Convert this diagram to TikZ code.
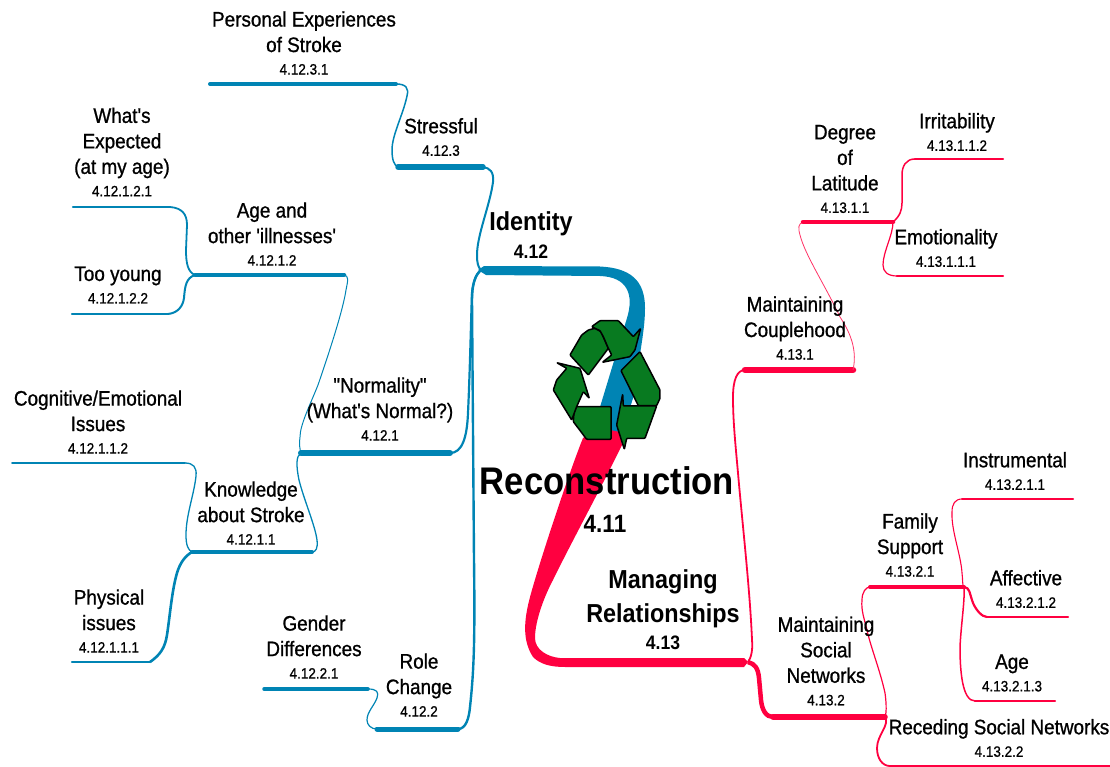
\documentclass[tikz,border=0pt]{standalone}
\usepackage{fontspec}
\setmainfont[FakeStretch=0.90,Ligatures=TeXOff,UprightFeatures={FakeBold=0.9}]{Liberation Sans}
\definecolor{tealbranch}{RGB}{0,132,180}
\definecolor{redbranch}{RGB}{255,0,64}
\definecolor{arrowgreen}{RGB}{8,122,32}
\newcommand{\code}[1]{{\fontsize{15}{20}\selectfont #1}}
\tikzset{
  topic/.style={align=center,font=\fontsize{21}{25.5}\selectfont,yshift=1pt},
  bigtopic/.style={align=center,font=\fontsize{26}{34}\selectfont\bfseries},
  bar/.style={line width=#1,line cap=round},
  hair/.style={line width=#1},
  arrowpart/.style={fill=arrowgreen,draw=black,line width=1.5pt,line join=round,rounded corners=0.8pt}
}
\begin{document}
\begin{tikzpicture}[x=1pt,y=-1pt]
\tikzstyle{every node}+=[inner sep=0pt]
\useasboundingbox (0,0) rectangle (1110,767);
% junctions
\coordinate (jIdentity) at (481,270);
\coordinate (jStress) at (398,167);
\coordinate (jStressR) at (483,167);
\coordinate (jPersonal) at (396,84);
\coordinate (endPersonal) at (210,84);
\coordinate (jAge) at (195,275);
\coordinate (jAgeR) at (344,275);
\coordinate (barExpected) at (170,207);
\coordinate (endExpected) at (73,207);
\coordinate (barYoung) at (168,314);
\coordinate (endYoung) at (72,314);
\coordinate (jNormal) at (301,453);
\coordinate (jNormalR) at (450,453);
\coordinate (jKnow) at (192,552);
\coordinate (jKnowR) at (312,552);
\coordinate (endCog) at (12,463);
\coordinate (barCog) at (185,463);
\coordinate (barPhys) at (150,662);
\coordinate (endPhys) at (72,662);
\coordinate (jRole) at (377,729);
\coordinate (jRoleR) at (458,729);
\coordinate (barGender) at (368,689);
\coordinate (endGender) at (264,689);
\coordinate (jRel) at (748,662);
\coordinate (jCouple) at (745,370);
\coordinate (jCoupleR) at (853,370);
\coordinate (jDegree) at (803,222);
\coordinate (jDegreeR) at (893,222);
\coordinate (barIrrit) at (915,159);
\coordinate (endIrrit) at (1003,159);
\coordinate (barEmot) at (897,276);
\coordinate (endEmot) at (1003,276);
\coordinate (jSocial) at (773,717);
\coordinate (jSocialR) at (885,717);
\coordinate (jFamily) at (870,587);
\coordinate (jFamilyR) at (964,587);
\coordinate (barInstr) at (962,499);
\coordinate (endInstr) at (1073,499);
\coordinate (barAffect) at (987,617);
\coordinate (endAffect) at (1068,617);
\coordinate (barAgeR) at (975,701);
\coordinate (endAgeR) at (1055,701);
\coordinate (barRecede) at (890,766);
\coordinate (endRecede) at (1110,766);
% main bands
\fill [tealbranch] (478,270) -- (484,266) -- (600,266.5) .. controls (630,268) and (645,280) .. (645,308) .. controls (645,330) and (640,350) .. (634,395) -- (620,440) -- (590,440) -- (627,318) .. controls (634,295) and (628,277) .. (600,276) -- (486,275) -- cycle;
\fill [redbranch] (583,438) .. controls (570,470) and (540,560) .. (530,597) .. controls (524,620) and (522,640) .. (533,657) .. controls (540,664) and (550,667) .. (565,667) -- (744,667) -- (jRel) -- (744,658) -- (560,658) .. controls (548,657) and (535,650) .. (535,638) .. controls (535,620) and (545,595) .. (553,580) .. controls (570,545) and (600,490) .. (622,445) -- (620,432) -- (600,428) -- cycle;
% teal branches
\draw [tealbranch,bar=5.5pt] (jStress) -- (jStressR);
\draw [tealbranch,hair=2pt] (jStressR) .. controls (490,168) and (494,172) .. (493,182) .. controls (490,205) and (477,235) .. (477,255) .. controls (477,263) and (478,267) .. (jIdentity);
\draw [tealbranch,bar=4pt] (endPersonal) -- (jPersonal);
\draw [tealbranch,hair=1.5pt] (jPersonal) .. controls (406,84) and (409,88) .. (407,96) .. controls (403,115) and (392,135) .. (392,150) .. controls (392,160) and (394,165) .. (jStress);
\draw [tealbranch,bar=4.5pt] (jAge) -- (jAgeR);
\draw [tealbranch,hair=1pt] (jAgeR) .. controls (349,276) and (348,280) .. (346,290) .. controls (343,310) and (330,350) .. (318,385) .. controls (310,405) and (300,425) .. (300,437) .. controls (299,445) and (300,450) .. (jNormal);
\draw [tealbranch,bar=2.5pt] (endExpected) -- (barExpected);
\draw [tealbranch,hair=1.8pt] (barExpected) .. controls (182,208) and (187,214) .. (187,225) -- (186,250) .. controls (186,264) and (188,272) .. (jAge);
\draw [tealbranch,bar=2.5pt] (endYoung) -- (barYoung);
\draw [tealbranch,hair=2pt] (barYoung) .. controls (178,313) and (183,306) .. (184,298) .. controls (185,286) and (186,278) .. (jAge);
\draw [tealbranch,bar=6pt] (jNormal) -- (jNormalR);
\draw [tealbranch,hair=2.2pt] (jNormalR) .. controls (462,453) and (467,438) .. (468,413) .. controls (470,370) and (471,320) .. (472,293) .. controls (473,282) and (476,274) .. (jIdentity);
\draw [tealbranch,hair=1.3pt] (jNormal) .. controls (296,456) and (296,465) .. (299,480) .. controls (304,500) and (315,525) .. (317,540) .. controls (318,548) and (316,552) .. (jKnowR);
\draw [tealbranch,bar=4pt] (jKnow) -- (jKnowR);
\draw [tealbranch,bar=1.8pt] (endCog) -- (barCog);
\draw [tealbranch,hair=1.3pt] (barCog) .. controls (193,463) and (197,467) .. (196,476) .. controls (194,495) and (186,515) .. (186,535) .. controls (186,545) and (188,550) .. (jKnow);
\draw [tealbranch,bar=2.5pt] (endPhys) -- (barPhys);
\draw [tealbranch,hair=2.6pt] (barPhys) .. controls (160,655) and (165,648) .. (167,635) .. controls (170,615) and (172,590) .. (177,573) .. controls (180,563) and (185,556) .. (jKnow);
\draw [tealbranch,bar=5pt] (jRole) -- (jRoleR);
\draw [tealbranch,hair=2.4pt] (jRoleR) .. controls (466,729) and (469,718) .. (470,707) .. controls (474,670) and (475,640) .. (474,560) -- (472,300) .. controls (472,285) and (475,275) .. (jIdentity);
\draw [tealbranch,bar=3.5pt] (endGender) -- (barGender);
\draw [tealbranch,hair=1.2pt] (barGender) .. controls (377,689) and (379,692) .. (377,698) .. controls (374,706) and (367,712) .. (367,720) .. controls (367,725) and (371,729) .. (jRole);
% red branches
\draw [redbranch,hair=1.8pt] (jRel) .. controls (751,658) and (753,650) .. (752,640) .. controls (750,590) and (742,520) .. (738,473) .. controls (735,440) and (733,420) .. (733,397) .. controls (733,380) and (737,370) .. (jCouple);
\draw [redbranch,bar=6.5pt] (jCouple) -- (jCoupleR);
\draw [redbranch!80,hair=0.8pt] (jCoupleR) .. controls (857,352) and (852,335) .. (840,317) .. controls (825,285) and (805,255) .. (800,235) .. controls (798,228) and (798,224) .. (jDegree);
\draw [redbranch,bar=4.5pt] (jDegree) -- (jDegreeR);
\draw [redbranch,hair=1.5pt] (jDegreeR) .. controls (900,216) and (902,210) .. (902,203) -- (902,175) .. controls (902,166) and (906,159) .. (barIrrit);
\draw [redbranch,bar=2.2pt] (barIrrit) -- (endIrrit);
\draw [redbranch,hair=1.2pt] (jDegreeR) .. controls (893,235) and (883,252) .. (883,265) .. controls (883,272) and (888,276) .. (barEmot);
\draw [redbranch,bar=2.2pt] (barEmot) -- (endEmot);
\draw [redbranch,hair=4.5pt] (jRel) .. controls (755,664) and (758,668) .. (759,678) -- (761,700) .. controls (762,710) and (766,717) .. (jSocial);
\draw [redbranch,bar=5.5pt] (jSocial) -- (jSocialR);
\draw [redbranch,hair=1.2pt] (jSocialR) .. controls (887,712) and (886,700) .. (885,693) .. controls (880,670) and (870,645) .. (867,630) .. controls (864,618) and (861,610) .. (862,600) .. controls (862,592) and (866,587) .. (jFamily);
\draw [redbranch,bar=4pt] (jFamily) -- (jFamilyR);
\draw [redbranch,hair=1.1pt] (jFamilyR) .. controls (962,585) and (963,580) .. (962,573) .. controls (961,555) and (951,530) .. (952,512) .. controls (952,504) and (955,499) .. (barInstr);
\draw [redbranch,bar=2pt] (barInstr) -- (endInstr);
\draw [redbranch,hair=2.2pt] (jFamilyR) .. controls (970,588) and (969,592) .. (973,603) .. controls (976,610) and (982,617) .. (barAffect);
\draw [redbranch,bar=2.2pt] (barAffect) -- (endAffect);
\draw [redbranch,hair=1.5pt] (jFamilyR) .. controls (965,600) and (961,625) .. (960,647) .. controls (960,670) and (962,701) .. (barAgeR);
\draw [redbranch,bar=2.2pt] (barAgeR) -- (endAgeR);
\draw [redbranch,hair=1.8pt] (jSocialR) .. controls (890,725) and (877,735) .. (877,748) .. controls (877,758) and (882,766) .. (barRecede);
\draw [redbranch,bar=3pt] (barRecede) -- (endRecede);
% recycling arrows
\begin{scope}[shift={(545,310)},scale=0.3333]
\draw [arrowpart] (75,135) -- (110,75) -- (130,60) -- (150,55) -- (168,65) -- (190,115) -- (130,195) -- cycle;
\draw [arrowpart] (140,50) -- (165,32) -- (220,32) -- (265,80) -- (287,55) -- (270,120) -- (255,140) -- (172,157) -- (200,135) -- (190,115) -- (175,80) -- (165,62) -- cycle;
\draw [arrowpart] (228,182) -- (285,125) -- (345,240) -- (345,265) -- (335,287) -- (280,287) -- cycle;
\draw [arrowpart] (233,252) -- (235,288) -- (335,288) -- (300,385) -- (245,385) -- (238,418) -- (215,345) -- cycle;
\draw [arrowpart] (88,290) -- (198,290) -- (198,388) -- (125,388) -- (85,335) -- cycle;
\draw [arrowpart] (35,158) -- (105,175) -- (133,265) -- (115,245) -- (95,290) -- (80,330) -- (25,240) -- (35,210) -- (65,175) -- cycle;
\end{scope}
% labels
\node [bigtopic,font=\fontsize{38.5}{44}\selectfont\bfseries] (reconstruction) at (607,481) {Reconstruction};
\node [bigtopic,font=\fontsize{25}{30}\selectfont\bfseries] (recnum) at (605,524) {4.11};
\node [bigtopic] (identity) at (531,224) {Identity};
\node [bigtopic,font=\fontsize{19.5}{24}\selectfont\bfseries] (idnum) at (531,252) {4.12};
\node [bigtopic] (relations) at (663,599) {Managing\\Relationships};
\node [bigtopic,font=\fontsize{19.5}{24}\selectfont\bfseries] (relnum) at (663,643) {4.13};
\node [topic] (personal) at (304,44) {Personal Experiences\\of Stroke\\[-3pt]\code{4.12.3.1}};
\node [topic] (stressful) at (441,138) {Stressful\\[-3pt]\code{4.12.3}};
\node [topic] (expected) at (122,153) {What's\\Expected\\(at my age)\\[-3pt]\code{4.12.1.2.1}};
\node [topic] (ageother) at (272,235) {Age and\\other 'illnesses'\\[-3pt]\code{4.12.1.2}};
\node [topic] (young) at (118,286) {Too young\\[-3pt]\code{4.12.1.2.2}};
\node [topic] (normality) at (380,410) {"Normality"\\(What's Normal?)\\[-3pt]\code{4.12.1}};
\node [topic] (cognitive) at (98,423) {Cognitive/Emotional\\Issues\\[-3pt]\code{4.12.1.1.2}};
\node [topic] (knowledge) at (251,514) {Knowledge\\about Stroke\\[-3pt]\code{4.12.1.1}};
\node [topic] (physical) at (109,622) {Physical\\issues\\[-3pt]\code{4.12.1.1.1}};
\node [topic] (gender) at (314,648) {Gender\\Differences\\[-3pt]\code{4.12.2.1}};
\node [topic] (role) at (419,686) {Role\\Change\\[-3pt]\code{4.12.2}};
\node [topic] (degree) at (845,170) {Degree\\of\\Latitude\\[-3pt]\code{4.13.1.1}};
\node [topic] (irritability) at (957,133) {Irritability\\[-3pt]\code{4.13.1.1.2}};
\node [topic] (emotionality) at (946,249) {Emotionality\\[-3pt]\code{4.13.1.1.1}};
\node [topic] (couplehood) at (795,329) {Maintaining\\Couplehood\\[-3pt]\code{4.13.1}};
\node [topic] (instrumental) at (1015,472) {Instrumental\\[-3pt]\code{4.13.2.1.1}};
\node [topic] (family) at (910,546) {Family\\Support\\[-3pt]\code{4.13.2.1}};
\node [topic] (affective) at (1026,590) {Affective\\[-3pt]\code{4.13.2.1.2}};
\node [topic] (agenode) at (1012,674) {Age\\[-3pt]\code{4.13.2.1.3}};
\node [topic] (social) at (826,662) {Maintaining\\Social\\Networks\\[-3pt]\code{4.13.2}};
\node [topic] (receding) at (999,739) {Receding Social Networks\\[-3pt]\code{4.13.2.2}};
\end{tikzpicture}
\end{document}
